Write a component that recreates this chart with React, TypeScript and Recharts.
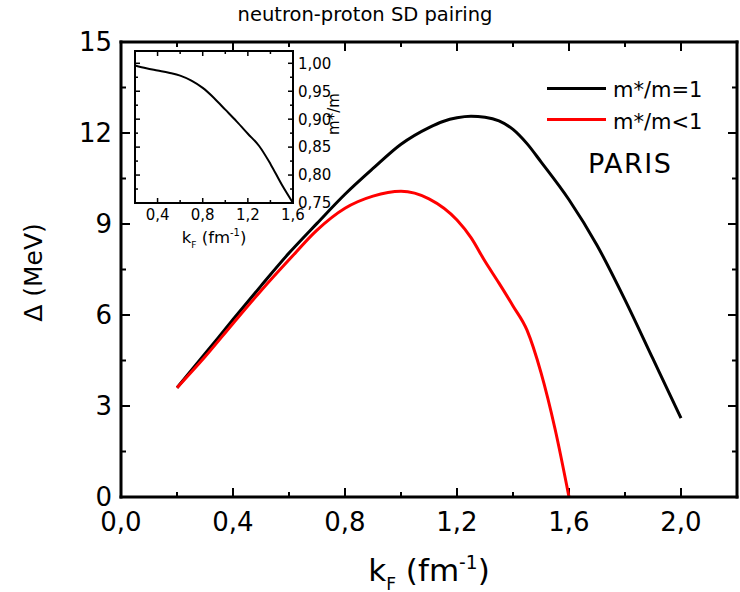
import React from "react";
import { LineChart, Line, XAxis, YAxis, ReferenceLine } from "recharts";

// gap vs Fermi momentum, bare mass (m*/m = 1)
const kBare = [0.2, 0.3, 0.4, 0.5, 0.6, 0.7, 0.8, 0.9, 1.0, 1.1, 1.15, 1.2, 1.25, 1.3, 1.35, 1.4, 1.45, 1.5, 1.6, 1.7, 1.8, 1.9, 2.0];
const deltaBare = [3.6, 4.72, 5.85, 6.96, 8.04, 9.02, 9.98, 10.83, 11.63, 12.18, 12.38, 12.5, 12.55, 12.52, 12.4, 12.12, 11.65, 11.05, 9.8, 8.3, 6.5, 4.55, 2.6];

// gap with effective mass (m*/m < 1)
const kEff = [0.2, 0.3, 0.4, 0.5, 0.6, 0.7, 0.8, 0.9, 1.0, 1.1, 1.2, 1.25, 1.3, 1.35, 1.4, 1.45, 1.5, 1.55, 1.6];
const deltaEff = [3.6, 4.62, 5.72, 6.8, 7.82, 8.8, 9.52, 9.92, 10.08, 9.83, 9.13, 8.55, 7.77, 7.05, 6.3, 5.5, 4.1, 2.25, 0];

// inset: effective mass ratio
const kInset = [0.2, 0.3, 0.4, 0.5, 0.6, 0.7, 0.8, 0.9, 1.0, 1.1, 1.2, 1.3, 1.4, 1.5, 1.6];
const effMass = [0.996, 0.991, 0.987, 0.983, 0.978, 0.969, 0.956, 0.938, 0.917, 0.896, 0.874, 0.852, 0.82, 0.783, 0.75];

const xTicks = [0, 0.2, 0.4, 0.6, 0.8, 1.0, 1.2, 1.4, 1.6, 1.8, 2.0];
const xLabels = [0, 0.4, 0.8, 1.2, 1.6, 2.0];
const yTicks = [0, 1.5, 3, 4.5, 6, 7.5, 9, 10.5, 12, 13.5, 15];
const yLabels = [0, 3, 6, 9, 12, 15];
const insetXTicks = [0.2, 0.4, 0.6, 0.8, 1.0, 1.2, 1.4, 1.6];
const insetXLabels = [0.4, 0.8, 1.2, 1.6];
const insetYTicks = [0.75, 0.775, 0.8, 0.825, 0.85, 0.875, 0.9, 0.925, 0.95, 0.975, 1.0];
const insetYLabels = [0.75, 0.8, 0.85, 0.9, 0.95, 1.0];

const seriesNames = ["m*/m=1", "m*/m<1"];
const seriesColors = ["#000000", "#ff0000"];

const FONT = "'DejaVu Sans', Verdana, sans-serif";

const MAIN_X_DOMAIN = [0, 2.2];
const MAIN_Y_DOMAIN = [0, 15];
const INSET_X_DOMAIN = [0.2, 1.6];
const INSET_Y_DOMAIN = [0.75, 1.022];

const bareData = kBare.map((k, i) => ({ k, d: deltaBare[i] }));
const effData = kEff.map((k, i) => ({ k, d: deltaEff[i] }));
const insetData = kInset.map((k, i) => ({ k, m: effMass[i] }));

const isIn = (arr: number[], v: number) => arr.some((l) => Math.abs(l - v) < 1e-9);

// label only the major ticks, decimal comma
const fmt = (labels: number[], digits: number) => (v: number) =>
  isIn(labels, v) ? v.toFixed(digits).replace(".", ",") : "";

// inward tick marks on all four sides, as short segments
// pxX / pxY = pixels per data unit of the plot area, lengths in px
function tickSegments(xs: number[], xMaj: number[], ys: number[], yMaj: number[], xd: number[], yd: number[], pxX: number, pxY: number, maj: number, min: number) {
  const segs: { x: number; y: number }[][] = [];
  xs.forEach((x) => {
    const len = (isIn(xMaj, x) ? maj : min) / pxY;
    segs.push([{ x, y: yd[0] }, { x, y: yd[0] + len }]);
    segs.push([{ x, y: yd[1] }, { x, y: yd[1] - len }]);
  });
  ys.forEach((y) => {
    const len = (isIn(yMaj, y) ? maj : min) / pxX;
    segs.push([{ x: xd[0], y }, { x: xd[0] + len, y }]);
    segs.push([{ x: xd[1], y }, { x: xd[1] - len, y }]);
  });
  return segs;
}

const mainSegs = tickSegments(xTicks, xLabels, yTicks, yLabels, MAIN_X_DOMAIN, MAIN_Y_DOMAIN, 616 / 2.2, 455 / 15, 9, 5);
const insetSegs = tickSegments(insetXTicks, insetXLabels, insetYTicks, insetYLabels, INSET_X_DOMAIN, INSET_Y_DOMAIN, 158 / 1.4, 152 / 0.272, 5, 3);

function KfTitle({ viewBox, lbDy, lbSize }: any) {
  const cx = viewBox.x + viewBox.width / 2;
  const by = viewBox.y + lbDy;
  const s = lbSize;
  return (
    <text x={cx} y={by} textAnchor="middle" fontSize={s} fontFamily={FONT} fill="#000">
      k
      <tspan fontSize={s * 0.55} dy={s * 0.29}>F</tspan>
      <tspan dy={-s * 0.29}>{"\u00a0(fm"}</tspan>
      <tspan fontSize={s * 0.6} dy={-s * 0.4}>-1</tspan>
      <tspan dy={s * 0.4}>)</tspan>
    </text>
  );
}

function RotTitle({ viewBox, lbDx, lbShift, lbText, lbSize }: any) {
  const x = viewBox.x + lbDx;
  const y = viewBox.y + viewBox.height / 2 + (lbShift || 0);
  return (
    <text x={x} y={y} transform={`rotate(-90 ${x} ${y})`} textAnchor="middle" fontSize={lbSize} fontFamily={FONT} fill="#000">
      {lbText}
    </text>
  );
}

const mainAxisLine = { stroke: "#000", strokeWidth: 3, strokeLinecap: "square" as const };
const insetAxisLine = { stroke: "#000", strokeWidth: 2, strokeLinecap: "square" as const };

export default function App() {
  return (
    <div style={{ position: "relative", width: 740, height: 592, background: "#fff", fontFamily: FONT }}>
      <style>{"body{margin:0}"}</style>
      <LineChart width={740} height={592} data={bareData} margin={{ top: 41, right: 2, bottom: 0, left: 0 }}>
        <XAxis
          xAxisId="b"
          dataKey="k"
          type="number"
          domain={MAIN_X_DOMAIN}
          ticks={xTicks}
          interval={0}
          height={95}
          tickSize={0}
          tickMargin={15.5}
          tickLine={false}
          axisLine={mainAxisLine}
          tickFormatter={fmt(xLabels, 1)}
          tick={{ fontSize: 26, fill: "#000", fontFamily: FONT }}
          label={<KfTitle lbDy={84} lbSize={31} />}
        />
        <XAxis xAxisId="t" orientation="top" dataKey="k" type="number" domain={MAIN_X_DOMAIN} ticks={xTicks} height={1} tickLine={false} axisLine={mainAxisLine} tick={false} />
        <YAxis
          yAxisId="l"
          type="number"
          domain={MAIN_Y_DOMAIN}
          ticks={yTicks}
          interval={0}
          width={121}
          tickSize={0}
          tickMargin={9}
          tickLine={false}
          axisLine={mainAxisLine}
          tickFormatter={fmt(yLabels, 0)}
          tick={{ fontSize: 26, fill: "#000", fontFamily: FONT }}
          label={<RotTitle lbDx={42} lbShift={3} lbText="Δ (MeV)" lbSize={25} />}
        />
        <YAxis yAxisId="r" orientation="right" type="number" domain={MAIN_Y_DOMAIN} ticks={yTicks} width={1} tickLine={false} axisLine={mainAxisLine} tick={false} />
        {mainSegs.map((s, i) => (
          <ReferenceLine key={i} xAxisId="b" yAxisId="l" segment={s} stroke="#000" strokeWidth={2} ifOverflow="visible" />
        ))}
        <Line
          xAxisId="b"
          yAxisId="l"
          data={bareData}
          dataKey="d"
          name={seriesNames[0]}
          type="monotone"
          stroke={seriesColors[0]}
          strokeWidth={3}
          dot={false}
          isAnimationActive={false}
        />
        <Line
          xAxisId="b"
          yAxisId="l"
          data={effData}
          dataKey="d"
          name={seriesNames[1]}
          type="monotone"
          stroke={seriesColors[1]}
          strokeWidth={3}
          dot={false}
          isAnimationActive={false}
        />
      </LineChart>

      {/* inset: effective mass ratio vs kF */}
      <div style={{ position: "absolute", left: 0, top: 0 }}>
        <LineChart width={360} height={260} data={insetData} margin={{ top: 50, right: 66, bottom: 56, left: 134 }}>
          <XAxis
            xAxisId="b"
            dataKey="k"
            type="number"
            domain={INSET_X_DOMAIN}
            ticks={insetXTicks}
            interval={0}
            height={1}
            tickSize={0}
            tickMargin={6.5}
            tickLine={false}
            axisLine={insetAxisLine}
            tickFormatter={fmt(insetXLabels, 1)}
            tick={{ fontSize: 15, fill: "#000", fontFamily: FONT }}
            label={<KfTitle lbDy={40} lbSize={16.5} />}
          />
          <XAxis xAxisId="t" orientation="top" dataKey="k" type="number" domain={INSET_X_DOMAIN} ticks={insetXTicks} height={1} tickLine={false} axisLine={insetAxisLine} tick={false} />
          <YAxis yAxisId="l" type="number" domain={INSET_Y_DOMAIN} ticks={insetYTicks} width={1} tickLine={false} axisLine={insetAxisLine} tick={false} />
          <YAxis
            yAxisId="r"
            orientation="right"
            type="number"
            domain={INSET_Y_DOMAIN}
            ticks={insetYTicks}
            interval={0}
            width={1}
            tickSize={0}
            tickMargin={5}
            tickLine={false}
            axisLine={insetAxisLine}
            tickFormatter={fmt(insetYLabels, 2)}
            tick={{ fontSize: 15, fill: "#000", fontFamily: FONT }}
            label={<RotTitle lbDx={46} lbShift={-13} lbText="m*/m" lbSize={15} />}
          />
          {insetSegs.map((s, i) => (
            <ReferenceLine key={i} xAxisId="b" yAxisId="r" segment={s} stroke="#000" strokeWidth={1.5} ifOverflow="visible" />
          ))}
          <Line
            xAxisId="b"
            yAxisId="r"
            dataKey="m"
            type="monotone"
            stroke="#000"
            strokeWidth={2}
            dot={false}
            isAnimationActive={false}
          />
        </LineChart>
      </div>

      <div style={{ position: "absolute", left: 0, top: 4, width: 730, textAlign: "center", fontSize: 19.5, lineHeight: "22px" }}>
        neutron-proton SD pairing
      </div>

      {seriesNames.map((n, i) => (
        <React.Fragment key={n}>
          <div style={{ position: "absolute", left: 547, top: 86.5 + i * 31.5, width: 59, height: 3, background: seriesColors[i] }} />
          <div style={{ position: "absolute", left: 613, top: 80 + i * 31.5, fontSize: 21, lineHeight: "21px", whiteSpace: "nowrap" }}>
            {n}
          </div>
        </React.Fragment>
      ))}

      <div style={{ position: "absolute", left: 588, top: 150, fontSize: 27, lineHeight: "27px", letterSpacing: 1.5 }}>PARIS</div>
    </div>
  );
}
